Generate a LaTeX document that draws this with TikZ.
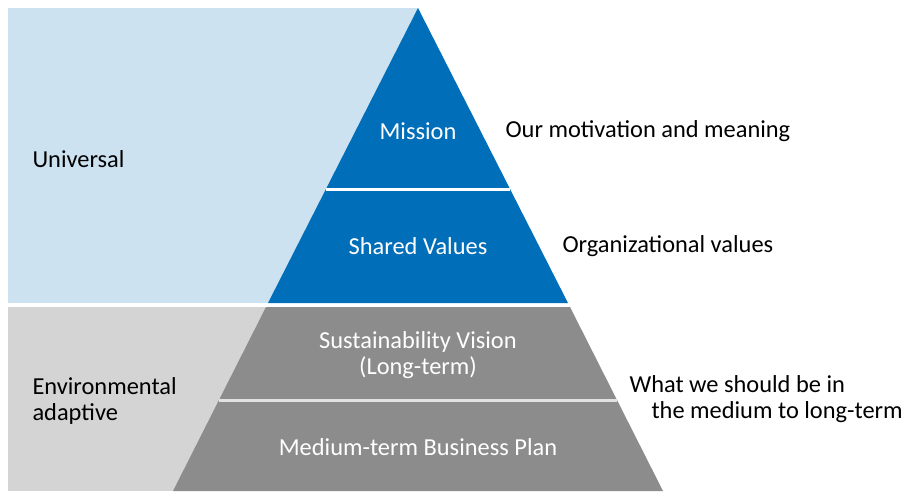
\documentclass[tikz,border=0pt]{standalone}
\usepackage{fontspec}
\setmainfont{Carlito}
\definecolor{univfill}{HTML}{CDE2F0}
\definecolor{envfill}{HTML}{D4D4D4}
\definecolor{corpblue}{HTML}{006EB8}
\definecolor{plangrey}{HTML}{8C8C8C}
\tikzset{
  tier/.style={text=white,align=center,font=\fontsize{24.4}{26}\selectfont},
  side/.style={text=black,anchor=west,align=left,font=\fontsize{24.4}{26}\selectfont}
}
\begin{document}
\begin{tikzpicture}[x=1pt,y=-1pt]
  \useasboundingbox (0,0) rectangle (908,491);
  % background bands
  \fill[univfill] (8,8) rectangle (418,303);
  \fill[envfill] (8,307) rectangle (418,491);
  % pyramid
  \coordinate (apex) at (418,8);
  \fill[corpblue] (apex) -- (568,303) -- (268,303) -- cycle;
  \fill[plangrey] (266,307) -- (570,307) -- (663,491) -- (173,491) -- cycle;
  \draw[white,line width=3pt] (325.8,189.5) -- (510.2,189.5);
  \draw[white!75!plangrey,line width=3pt] (219,400) -- (617,400);

  \node[tier] (mission) at (418,131) {Mission};
  \node[tier] (shared) at (418,246) {Shared Values};
  \node[tier] (vision) at (418,355) {Sustainability Vision\\(Long-term)};
  \node[tier] (plan) at (418,447) {Medium-term Business Plan};

  \node[side] (universal) at (29,159) {Universal};
  \node[side] (envadapt) at (29,401) {Environmental\\adaptive};
  \node[side] (motiv) at (502,131) {Our motivation and meaning};
  \node[side] (orgval) at (559,246) {Organizational values};
  \node[side] (medlong) at (626,399) {What we should be in\\\hspace*{22pt}the medium to long-term};
\end{tikzpicture}
\end{document}
